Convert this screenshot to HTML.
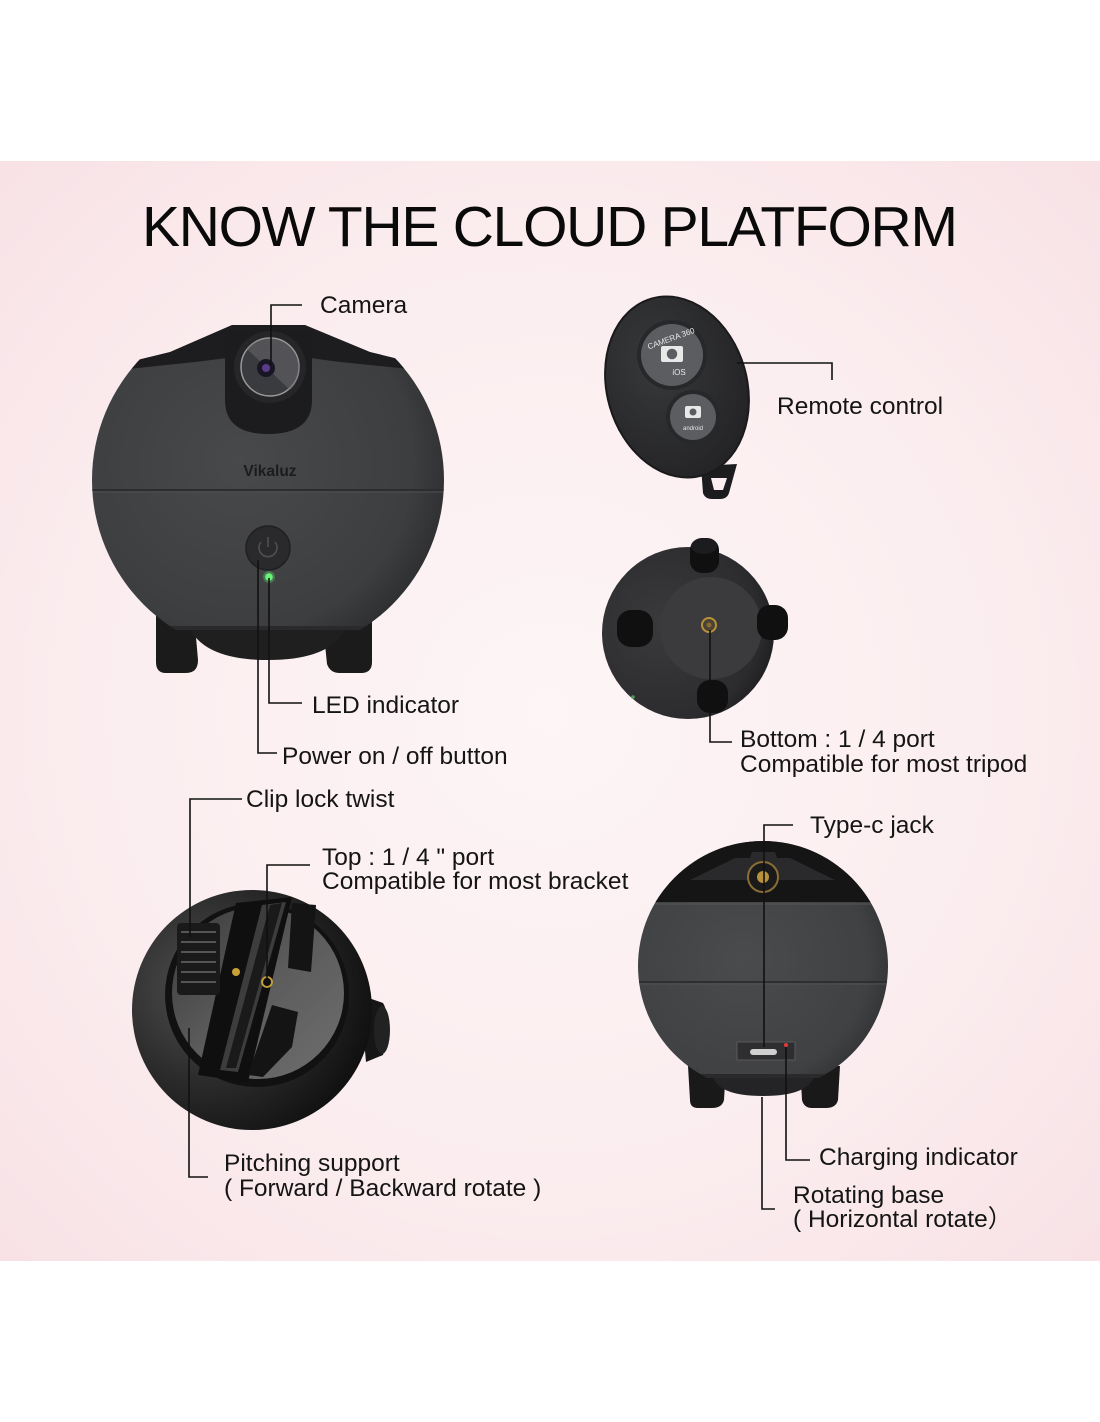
<!DOCTYPE html>
<html><head><meta charset="utf-8">
<style>
html,body{margin:0;padding:0;background:#fff;}
body{width:1100px;height:1422px;overflow:hidden;}
svg{display:block;}
.t{font-family:"Liberation Sans","Noto Sans CJK SC",sans-serif;font-size:24.5px;fill:#151515;}
.ln{stroke:#111;stroke-width:1.6;fill:none;}
</style></head>
<body>
<svg width="1100" height="1422" viewBox="0 0 1100 1422" xmlns="http://www.w3.org/2000/svg">
<defs>
  <radialGradient id="bg" cx="0.5" cy="0.5" r="0.7">
    <stop offset="0" stop-color="#fdf5f6"/>
    <stop offset="0.6" stop-color="#fbedef"/>
    <stop offset="1" stop-color="#f8e2e6"/>
  </radialGradient>
  <radialGradient id="g1" cx="0.42" cy="0.45" r="0.62">
    <stop offset="0" stop-color="#48494b"/>
    <stop offset="0.75" stop-color="#3d3e40"/>
    <stop offset="1" stop-color="#28292b"/>
  </radialGradient>
  <radialGradient id="g5" cx="0.42" cy="0.5" r="0.62">
    <stop offset="0" stop-color="#4a4b4d"/>
    <stop offset="0.75" stop-color="#404143"/>
    <stop offset="1" stop-color="#2a2b2d"/>
  </radialGradient>
  <radialGradient id="g3" cx="0.35" cy="0.45" r="0.7">
    <stop offset="0" stop-color="#3a3a3c"/>
    <stop offset="0.8" stop-color="#2c2c2e"/>
    <stop offset="1" stop-color="#1c1c1e"/>
  </radialGradient>
  <radialGradient id="g4" cx="0.3" cy="0.4" r="0.75">
    <stop offset="0" stop-color="#505050"/>
    <stop offset="0.55" stop-color="#2a2a2a"/>
    <stop offset="1" stop-color="#0e0e0e"/>
  </radialGradient>
  <linearGradient id="g4i" x1="0" y1="0" x2="1" y2="1">
    <stop offset="0" stop-color="#3a3a3a"/>
    <stop offset="0.5" stop-color="#5c5c5c"/>
    <stop offset="1" stop-color="#6e6e6e"/>
  </linearGradient>
  <radialGradient id="rem" cx="0.4" cy="0.35" r="0.7">
    <stop offset="0" stop-color="#38393b"/>
    <stop offset="1" stop-color="#232325"/>
  </radialGradient>
  <clipPath id="c1"><circle cx="268" cy="480" r="176"/></clipPath>
  <clipPath id="c1t"><path d="M80,374 L170,352 L232,325 L305,325 L370,352 L460,374 V630 H80 Z"/></clipPath>
  <clipPath id="c5"><circle cx="763" cy="966" r="125"/></clipPath>
  <clipPath id="c5t"><rect x="620" y="830" width="290" height="248"/></clipPath>
</defs>

<!-- background panel -->
<rect x="0" y="0" width="1100" height="1422" fill="#fff"/>
<rect x="0" y="161" width="1100" height="1100" fill="url(#bg)"/>

<!-- title -->
<text x="142" y="246" style="font-family:'Liberation Sans',sans-serif;font-size:57px;letter-spacing:-1.25px;" fill="#0a0a0a">KNOW THE CLOUD PLATFORM</text>

<!-- ============ DEVICE 1 (front) ============ -->
<path d="M156,614 L194,614 L198,660 Q198,673 186,673 L166,673 Q156,673 156,662 Z" fill="#1b1b1c"/>
<path d="M322,614 L372,614 L372,662 Q372,673 361,673 L340,673 Q330,673 327,664 Z" fill="#1b1b1c"/>
<path d="M186,618 L350,618 Q340,660 268,660 Q196,660 186,618 Z" fill="#1f1f20"/>
<g clip-path="url(#c1t)"><g clip-path="url(#c1)">
  <rect x="85" y="300" width="370" height="360" fill="url(#g1)"/>
  <path d="M80,374 L170,352 L232,325 L305,325 L370,352 L460,374 L340,362 L310,358 L227,358 L195,362 Z" fill="#1d1d1f"/>
  <line x1="90" y1="490" x2="446" y2="490" stroke="#2c2d2f" stroke-width="2"/>
  <line x1="90" y1="492" x2="446" y2="492" stroke="#4d4e50" stroke-width="1"/>
  <rect x="80" y="626" width="380" height="4" fill="#2a2a2c"/>
</g></g>
<path d="M225,330 L312,330 L312,400 Q312,434 268,434 Q225,434 225,400 Z" fill="#1c1c1e"/>
<circle cx="270" cy="367" r="36" fill="#262628"/>
<circle cx="270" cy="367" r="29" fill="#3a3b3e" stroke="#9a9a9a" stroke-width="1.5"/>
<path d="M247,349 L290,390 A29,29 0 0 0 292,349 A29,29 0 0 0 247,349 Z" fill="#6b6c70" opacity="0.5"/>
<circle cx="266" cy="368" r="9" fill="#1a1524"/>
<circle cx="266" cy="368" r="4" fill="#5a3d8a"/>
<text x="270" y="476" text-anchor="middle" style="font-family:'Liberation Sans',sans-serif;font-weight:bold;font-size:15.5px;" fill="#1c1c1d">Vikaluz</text>
<circle cx="268" cy="548" r="22" fill="#2a2a2c" stroke="#202022" stroke-width="1.5"/>
<path d="M261,542 A9,9 0 1 0 275,542" stroke="#4e4f52" stroke-width="1.6" fill="none"/>
<line x1="268" y1="537" x2="268" y2="547" stroke="#4e4f52" stroke-width="1.6"/>
<circle cx="269" cy="577" r="6" fill="#5be36a" opacity="0.35"/>
<circle cx="269" cy="577" r="3.8" fill="#6af27a"/>

<!-- ============ DEVICE 2 (remote) ============ -->
<path d="M701,466 L737,464 L729,493 Q727,499 720,499 L712,499 Q705,499 703,493 Z" fill="#1c1c1e"/>
<path d="M711,478 L727,478 L723,490 L714,490 Z" fill="#fbeef0"/>
<ellipse cx="677" cy="387" rx="70" ry="92" transform="rotate(-16 677 387)" fill="url(#rem)" stroke="#1a1a1c" stroke-width="2"/>
<circle cx="672" cy="355" r="35" fill="#27282a"/>
<circle cx="672" cy="355" r="31" fill="#5b5d61"/>
<text x="672" y="341" text-anchor="middle" transform="rotate(-20 672 341)" style="font-family:'Liberation Sans',sans-serif;font-size:8px;" fill="#e8e8e8">CAMERA 360</text>
<rect x="661" y="346" width="22" height="16" rx="2" fill="#e8e8e8"/>
<circle cx="672" cy="354" r="6" fill="#5b5d61" stroke="#e8e8e8" stroke-width="1.5"/>
<text x="679" y="375" text-anchor="middle" style="font-family:'Liberation Sans',sans-serif;font-size:8px;" fill="#e8e8e8">iOS</text>
<circle cx="693" cy="417" r="27" fill="#27282a"/>
<circle cx="693" cy="417" r="23" fill="#5b5d61"/>
<rect x="685" y="406" width="16" height="12" rx="2" fill="#e8e8e8"/>
<circle cx="693" cy="412" r="4" fill="#5b5d61" stroke="#e8e8e8" stroke-width="1"/>
<text x="693" y="430" text-anchor="middle" style="font-family:'Liberation Sans',sans-serif;font-size:6px;" fill="#e8e8e8">android</text>

<!-- ============ DEVICE 3 (bottom view) ============ -->
<circle cx="688" cy="633" r="86" fill="url(#g3)"/>
<circle cx="711" cy="628" r="51" fill="#3b3b3d"/>
<circle cx="709" cy="625" r="7" fill="#4a4234" stroke="#b8923a" stroke-width="2"/>
<circle cx="709" cy="625" r="2.5" fill="#8a6a30"/>
<rect x="690" y="538" width="29" height="35" rx="12" fill="#101011"/>
<ellipse cx="704" cy="546" rx="13" ry="8" fill="#1c1c1e"/>
<rect x="617" y="610" width="36" height="37" rx="14" fill="#101011"/>
<rect x="757" y="605" width="31" height="35" rx="13" fill="#101011"/>
<rect x="697" y="680" width="31" height="33" rx="13" fill="#101011"/>
<circle cx="633" cy="697" r="1.8" fill="#4c9a55"/>

<!-- ============ DEVICE 4 (top / clip view) ============ -->
<path d="M360,995 L383,1003 Q392,1018 383,1055 L366,1062 Z" fill="#161616"/>
<ellipse cx="382" cy="1030" rx="8" ry="24" fill="#222"/>
<circle cx="252" cy="1010" r="120" fill="url(#g4)"/>
<circle cx="257" cy="995" r="92" fill="#111"/>
<circle cx="258" cy="993" r="86" fill="url(#g4i)"/>
<path d="M236,903 L292,897 L248,1082 L198,1075 Z" fill="#0f0f0f"/>
<path d="M262,905 L286,902 L238,1072 L220,1070 Z" fill="#3d3d3d"/>
<path d="M270,905 L282,903 L236,1068 L226,1068 Z" fill="#1a1a1a"/>
<path d="M292,903 L316,905 L311,972 L288,968 Z" fill="#141414"/>
<path d="M272,1005 L298,1012 L292,1047 L263,1077 L248,1075 Z" fill="#141414"/>
<rect x="177" y="923" width="43" height="72" rx="4" fill="#1a1a1a"/>
<g stroke="#555" stroke-width="2">
  <line x1="181" y1="932" x2="216" y2="932"/>
  <line x1="181" y1="942" x2="216" y2="942"/>
  <line x1="181" y1="952" x2="216" y2="952"/>
  <line x1="181" y1="962" x2="216" y2="962"/>
  <line x1="181" y1="972" x2="216" y2="972"/>
  <line x1="181" y1="982" x2="216" y2="982"/>
</g>
<circle cx="236" cy="972" r="4" fill="#c9a236"/>
<circle cx="267" cy="982" r="5" fill="none" stroke="#c9a236" stroke-width="1.8"/>

<!-- ============ DEVICE 5 (back view) ============ -->
<path d="M688,1066 L726,1066 L724,1100 Q722,1108 712,1108 L698,1108 Q690,1108 690,1100 Z" fill="#19191a"/>
<path d="M800,1066 L840,1066 L838,1100 Q836,1108 826,1108 L812,1108 Q804,1108 802,1100 Z" fill="#19191a"/>
<path d="M712,1074 L815,1074 Q810,1096 763,1096 Q716,1096 712,1074 Z" fill="#242426"/>
<g clip-path="url(#c5t)"><g clip-path="url(#c5)">
  <rect x="630" y="830" width="270" height="260" fill="url(#g5)"/>
  <rect x="630" y="830" width="270" height="72" fill="#151516"/>
  <path d="M690,880 L735,858 L790,858 L835,880 Z" fill="#2a2a2c"/>
  <line x1="635" y1="904" x2="892" y2="904" stroke="#555658" stroke-width="1"/>
  <line x1="635" y1="982" x2="892" y2="982" stroke="#2e2f31" stroke-width="2"/>
  <line x1="635" y1="984" x2="892" y2="984" stroke="#505153" stroke-width="1"/>
  <rect x="630" y="1074" width="270" height="4" fill="#2a2a2c"/>
</g></g>
<path d="M745,872 L752,852 L775,852 L782,872 Z" fill="#2a2a2c"/>
<circle cx="763" cy="877" r="15" fill="#1a1a1a" stroke="#8a6e36" stroke-width="2"/>
<circle cx="763" cy="877" r="6" fill="#b8923a"/>
<rect x="737" y="1042" width="58" height="18" fill="#2e2e30" stroke="#58585a" stroke-width="1"/>
<rect x="750" y="1049" width="27" height="6" rx="3" fill="#cfcfcf"/>
<circle cx="786" cy="1045" r="2" fill="#e23a3a"/>

<!-- ============ LEADER LINES ============ -->
<path class="ln" d="M302,305 H271 V365"/>
<path class="ln" d="M269,578 V703 H302"/>
<path class="ln" d="M258,560 V753 H277"/>
<path class="ln" d="M737,363 H832 V380"/>
<path class="ln" d="M710,630 V742 H732"/>
<path class="ln" d="M242,799 H190 V937"/>
<path class="ln" d="M310,865 H267 V982"/>
<path class="ln" d="M189,1028 V1177 H208"/>
<path class="ln" d="M793,825 H764 V1047"/>
<path class="ln" d="M786,1047 V1160 H810"/>
<path class="ln" d="M762,1097 V1209 H775"/>

<!-- ============ LABELS ============ -->
<text class="t" x="320" y="313">Camera</text>
<text class="t" x="777" y="414">Remote control</text>
<text class="t" x="312" y="713">LED indicator</text>
<text class="t" x="282" y="764">Power on / off button</text>
<text class="t" x="740" y="747">Bottom : 1 / 4 port</text>
<text class="t" x="740" y="772">Compatible for most tripod</text>
<text class="t" x="246" y="807">Clip lock twist</text>
<text class="t" x="322" y="865">Top : 1 / 4 " port</text>
<text class="t" x="322" y="889">Compatible for most bracket</text>
<text class="t" x="810" y="833">Type-c jack</text>
<text class="t" x="224" y="1171">Pitching support</text>
<text class="t" x="224" y="1196">( Forward / Backward rotate )</text>
<text class="t" x="819" y="1165">Charging indicator</text>
<text class="t" x="793" y="1203">Rotating base</text>
<text class="t" x="793" y="1227">( Horizontal rotate）</text>
</svg>
</body></html>
